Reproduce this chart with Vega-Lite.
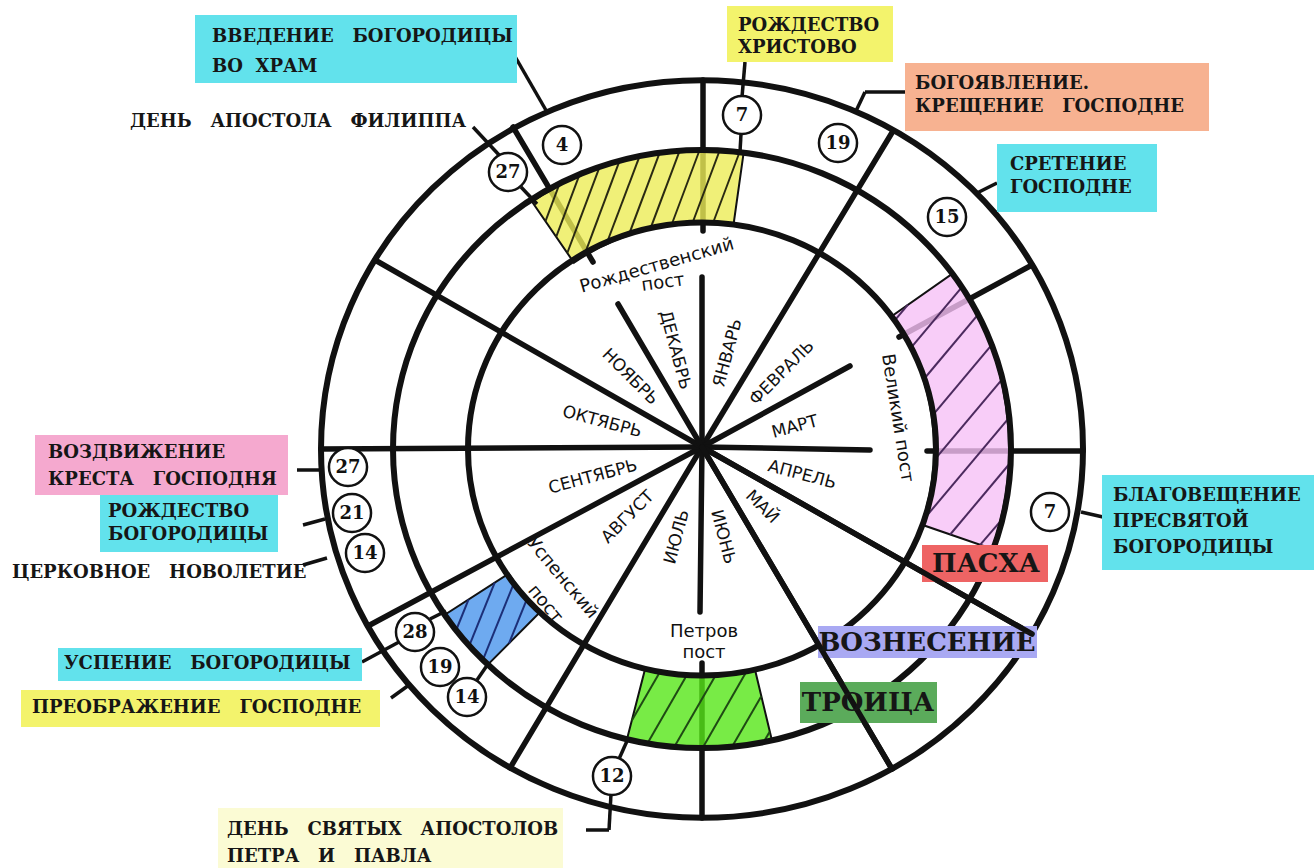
{
  "$schema": "https://vega.github.io/schema/vega-lite/v6.json",
  "width": 1314,
  "height": 868,
  "padding": 0,
  "autosize": {"type": "fit", "contains": "padding"},
  "background": "white",
  "config": {"view": {"stroke": null}},
  "datasets": {
    "spokes": [
      {"id": "jan_feb", "x": 0, "y": 2, "x2": 191, "y2": 318},
      {"id": "apr_may", "x": 0, "y": 2, "x2": 330, "y2": -185},
      {"id": "may_jun", "x": 0, "y": 2, "x2": 190, "y2": -320},
      {"id": "jul_aug", "x": 0, "y": 2, "x2": -192, "y2": -319},
      {"id": "aug_sep", "x": 0, "y": 2, "x2": -334, "y2": -177},
      {"id": "sep_oct", "x": 0, "y": 2, "x2": -381, "y2": 0},
      {"id": "oct_nov", "x": 0, "y": 2, "x2": -327, "y2": 189},
      {"id": "dec_jan_in", "x": 0, "y": 2, "x2": 0, "y2": 172},
      {"id": "feb_mar_in", "x": 0, "y": 2, "x2": 148, "y2": 83},
      {"id": "mar_apr_in", "x": 0, "y": 2, "x2": 168, "y2": -1},
      {"id": "jun_jul_in", "x": 0, "y": 2, "x2": -2, "y2": -163},
      {"id": "nov_dec_in", "x": 0, "y": 2, "x2": -84, "y2": 145},
      {"id": "dec_jan_out", "x": 1, "y": 369, "x2": 1, "y2": 218},
      {"id": "feb_mar_out", "x": 330, "y": 184, "x2": 197, "y2": 112},
      {"id": "mar_apr_out", "x": 225, "y": -2, "x2": 381, "y2": -2},
      {"id": "jun_jul_out", "x": 0, "y": -214, "x2": 0, "y2": -369},
      {"id": "nov_dec_out", "x": -189, "y": 322, "x2": -109, "y2": 187}
    ],
    "hatch": [
      {"band": "yellow", "x": 11, "y": 226, "x2": 38, "y2": 298},
      {"band": "yellow", "x": -9.5, "y": 226, "x2": 18, "y2": 299.5},
      {"band": "yellow", "x": -30.5, "y": 224, "x2": -2, "y2": 300},
      {"band": "yellow", "x": -51.5, "y": 220.6, "x2": -22, "y2": 299.2},
      {"band": "yellow", "x": -73, "y": 214.7, "x2": -42, "y2": 297.2},
      {"band": "yellow", "x": -95, "y": 206.5, "x2": -62, "y2": 293.9},
      {"band": "yellow", "x": -117, "y": 195.7, "x2": -82, "y2": 289.3},
      {"band": "yellow", "x": -134.7, "y": 196, "x2": -102, "y2": 283.2},
      {"band": "yellow", "x": -145.8, "y": 212.2, "x2": -122, "y2": 275.6},
      {"band": "yellow", "x": -156.5, "y": 227.8, "x2": -142, "y2": 266.5},
      {"band": "pink", "x": 192.6, "y": 128.4, "x2": 206, "y2": 144.3},
      {"band": "pink", "x": 209.1, "y": 101.3, "x2": 259.9, "y2": 161.8},
      {"band": "pink", "x": 222.4, "y": 70.5, "x2": 276.2, "y2": 134.6},
      {"band": "pink", "x": 231.2, "y": 34.4, "x2": 289.7, "y2": 104.1},
      {"band": "pink", "x": 233.7, "y": -9.3, "x2": 300.5, "y2": 70.2},
      {"band": "pink", "x": 222.6, "y": -69.3, "x2": 307.4, "y2": 31.7},
      {"band": "pink", "x": 248.2, "y": -85.5, "x2": 308.6, "y2": -13.5},
      {"band": "pink", "x": 278.1, "y": -95.8, "x2": 300.7, "y2": -69.6},
      {"band": "green", "x": -70.3, "y": -271.8, "x2": -41.5, "y2": -221.9},
      {"band": "green", "x": -54.9, "y": -295.1, "x2": -14.8, "y2": -225.6},
      {"band": "green", "x": -28.2, "y": -298.8, "x2": 14.1, "y2": -225.6},
      {"band": "green", "x": 0, "y": -300, "x2": 44.9, "y2": -221.8},
      {"band": "green", "x": 29.6, "y": -298.6, "x2": 59.3, "y2": -247.2},
      {"band": "green", "x": 61, "y": -294.3, "x2": 67.8, "y2": -282.6},
      {"band": "blue", "x": -245.4, "y": -180, "x2": -233.4, "y2": -150.4},
      {"band": "blue", "x": -232.2, "y": -195.4, "x2": -207.3, "y2": -133.6},
      {"band": "blue", "x": -219, "y": -210.7, "x2": -187.8, "y2": -133.5},
      {"band": "blue", "x": -193, "y": -194.3, "x2": -174.5, "y2": -148.7}
    ],
    "rings": [
      {"ring": "outer", "x": 0, "y": 0, "rx": 381},
      {"ring": "middle", "x": 0, "y": 0, "rx": 309},
      {"ring": "inner", "x": 0, "y": 0, "rx": 234}
    ],
    "leaders": [
      {"x": -189, "y": 396, "x2": -155, "y2": 337},
      {"x": -229, "y": 322, "x2": -202, "y2": 293},
      {"x": -181, "y": 262, "x2": -165, "y2": 245},
      {"x": 43, "y": 387, "x2": 40, "y2": 352},
      {"x": 39, "y": 315, "x2": 38, "y2": 297},
      {"x": 203, "y": 357, "x2": 163, "y2": 357},
      {"x": 163, "y": 357, "x2": 154, "y2": 338},
      {"x": 295, "y": 266, "x2": 275, "y2": 256},
      {"x": 379, "y": -63, "x2": 401, "y2": -68},
      {"x": -405, "y": -21, "x2": -381, "y2": -21},
      {"x": -399, "y": -76, "x2": -377, "y2": -70},
      {"x": -399, "y": -116, "x2": -375, "y2": -109},
      {"x": -340, "y": -213, "x2": -303, "y2": -193},
      {"x": -272, "y": -170, "x2": -256, "y2": -162},
      {"x": -311, "y": -249, "x2": -293, "y2": -236},
      {"x": -225, "y": -231, "x2": -214, "y2": -215},
      {"x": -116, "y": -381, "x2": -93, "y2": -381},
      {"x": -93, "y": -381, "x2": -91, "y2": -345},
      {"x": -83, "y": -310, "x2": -75, "y2": -292}
    ],
    "dates": [
      {"n": "4", "x": -140, "y": 304},
      {"n": "27", "x": -194, "y": 277},
      {"n": "7", "x": 40, "y": 334},
      {"n": "19", "x": 136, "y": 306},
      {"n": "15", "x": 245, "y": 232},
      {"n": "7", "x": 348, "y": -63},
      {"n": "27", "x": -354, "y": -18},
      {"n": "21", "x": -350, "y": -64},
      {"n": "14", "x": -337, "y": -104},
      {"n": "28", "x": -287, "y": -183},
      {"n": "19", "x": -262, "y": -218},
      {"n": "14", "x": -235, "y": -248},
      {"n": "12", "x": -90, "y": -327}
    ],
    "boxes": [
      {"col": "cyan", "x": -507, "x2": -185, "y": 434, "y2": 366},
      {"col": "yellow", "x": 25, "x2": 191, "y": 443, "y2": 387},
      {"col": "salmon", "x": 203, "x2": 507, "y": 386, "y2": 318},
      {"col": "cyan", "x": 295, "x2": 455, "y": 305, "y2": 237},
      {"col": "cyan", "x": 400, "x2": 612, "y": -26, "y2": -121},
      {"col": "pink", "x": -667, "x2": -414, "y": 14, "y2": -46},
      {"col": "cyan", "x": -602, "x2": -424, "y": -46, "y2": -103},
      {"col": "cyan", "x": -644, "x2": -340, "y": -199, "y2": -232},
      {"col": "yellow", "x": -681, "x2": -322, "y": -241, "y2": -278},
      {"col": "cream", "x": -484, "x2": -139, "y": -359, "y2": -419},
      {"col": "red", "x": 220, "x2": 346, "y": -96, "y2": -133},
      {"col": "lavender", "x": 116, "x2": 335, "y": -177, "y2": -209},
      {"col": "green", "x": 98, "x2": 235, "y": -233, "y2": -274}
    ],
    "labels": [
      {"t": "ВВЕДЕНИЕ\u00a0\u00a0\u00a0БОГОРОДИЦЫ", "x": -490, "y": 412},
      {"t": "ВО\u00a0\u00a0ХРАМ", "x": -490, "y": 382},
      {"t": "ДЕНЬ\u00a0\u00a0\u00a0АПОСТОЛА\u00a0\u00a0\u00a0ФИЛИППА", "x": -572, "y": 327},
      {"t": "РОЖДЕСТВО", "x": 36, "y": 423},
      {"t": "ХРИСТОВО", "x": 36, "y": 401},
      {"t": "БОГОЯВЛЕНИЕ.", "x": 213, "y": 365},
      {"t": "КРЕЩЕНИЕ\u00a0\u00a0\u00a0ГОСПОДНЕ", "x": 213, "y": 342},
      {"t": "СРЕТЕНИЕ", "x": 308, "y": 284},
      {"t": "ГОСПОДНЕ", "x": 308, "y": 261},
      {"t": "БЛАГОВЕЩЕНИЕ", "x": 411, "y": -47},
      {"t": "ПРЕСВЯТОЙ", "x": 411, "y": -73},
      {"t": "БОГОРОДИЦЫ", "x": 411, "y": -99},
      {"t": "ВОЗДВИЖЕНИЕ", "x": -654, "y": -4},
      {"t": "КРЕСТА\u00a0\u00a0\u00a0ГОСПОДНЯ", "x": -654, "y": -31},
      {"t": "РОЖДЕСТВО", "x": -594, "y": -63},
      {"t": "БОГОРОДИЦЫ", "x": -594, "y": -86},
      {"t": "ЦЕРКОВНОЕ\u00a0\u00a0\u00a0НОВОЛЕТИЕ", "x": -690, "y": -124},
      {"t": "УСПЕНИЕ\u00a0\u00a0\u00a0БОГОРОДИЦЫ", "x": -638, "y": -215},
      {"t": "ПРЕОБРАЖЕНИЕ\u00a0\u00a0\u00a0ГОСПОДНЕ", "x": -670, "y": -259},
      {"t": "ДЕНЬ\u00a0\u00a0\u00a0СВЯТЫХ\u00a0\u00a0\u00a0АПОСТОЛОВ", "x": -475, "y": -381},
      {"t": "ПЕТРА\u00a0\u00a0\u00a0И\u00a0\u00a0\u00a0ПАВЛА", "x": -475, "y": -408}
    ],
    "big": [
      {"t": "ПАСХА", "x": 284, "y": -115},
      {"t": "ВОЗНЕСЕНИЕ", "x": 225, "y": -194},
      {"t": "ТРОИЦА", "x": 166, "y": -254}
    ],
    "months": [
      {"t": "ЯНВАРЬ", "dir": 15, "x": 26, "y": 96},
      {"t": "ФЕВРАЛЬ", "dir": 45, "x": 80, "y": 76},
      {"t": "МАРТ", "dir": 75, "x": 93, "y": 22},
      {"t": "АПРЕЛЬ", "dir": 105, "x": 100, "y": -26},
      {"t": "МАЙ", "dir": 135, "x": 60, "y": -58},
      {"t": "ИЮНЬ", "dir": 165, "x": 21, "y": -88},
      {"t": "ИЮЛЬ", "dir": 195, "x": -25, "y": -88},
      {"t": "АВГУСТ", "dir": 225, "x": -74, "y": -68},
      {"t": "СЕНТЯБРЬ", "dir": 255, "x": -109, "y": -28},
      {"t": "ОКТЯБРЬ", "dir": 285, "x": -100, "y": 27},
      {"t": "НОЯБРЬ", "dir": 315, "x": -72, "y": 72},
      {"t": "ДЕКАБРЬ", "dir": 345, "x": -27, "y": 99}
    ]
  },
  "encoding": {
    "x": {"field": "x", "type": "quantitative", "scale": {"domain": [-702, 612], "nice": false, "zero": false}, "axis": null},
    "y": {"field": "y", "type": "quantitative", "scale": {"domain": [-419, 449], "nice": false, "zero": false}, "axis": null}
  },
  "layer": [
    {
      "data": {"name": "spokes"},
      "mark": {"type": "rule", "stroke": "#111111", "strokeWidth": 5.5, "strokeCap": "round"},
      "encoding": {"x2": {"field": "x2"}, "y2": {"field": "y2"}}
    },
    {
      "data": {"values": [{"fast": "Рождественский пост", "x": 0, "y": 0, "a0": -34.5, "a1": 8}]},
      "mark": {"type": "arc", "outerRadius": 300, "innerRadius": 226, "fill": "#ecec56", "fillOpacity": 0.8, "stroke": "#111111", "strokeWidth": 2},
      "encoding": {
        "theta": {"field": "a0", "type": "quantitative", "stack": null, "scale": {"domain": [0, 360], "range": [0, 6.283185307179586]}},
        "theta2": {"field": "a1"}
      }
    },
    {
      "data": {"values": [{"fast": "Великий пост", "x": 0, "y": 0, "a0": 55, "a1": 109}]},
      "mark": {"type": "arc", "outerRadius": 307, "innerRadius": 232, "fill": "#f6c0f6", "fillOpacity": 0.8, "stroke": "#111111", "strokeWidth": 2},
      "encoding": {
        "theta": {"field": "a0", "type": "quantitative", "stack": null, "scale": {"domain": [0, 360], "range": [0, 6.283185307179586]}},
        "theta2": {"field": "a1"}
      }
    },
    {
      "data": {"values": [{"fast": "Петров пост", "x": 0, "y": 0, "a0": 166.5, "a1": 194.5}]},
      "mark": {"type": "arc", "outerRadius": 300, "innerRadius": 226, "fill": "#56e618", "fillOpacity": 0.8, "stroke": "#111111", "strokeWidth": 2},
      "encoding": {
        "theta": {"field": "a0", "type": "quantitative", "stack": null, "scale": {"domain": [0, 360], "range": [0, 6.283185307179586]}},
        "theta2": {"field": "a1"}
      }
    },
    {
      "data": {"values": [{"fast": "Успенский пост", "x": 0, "y": 0, "a0": 224.8, "a1": 237.2}]},
      "mark": {"type": "arc", "outerRadius": 305, "innerRadius": 230, "fill": "#4a95ec", "fillOpacity": 0.8, "stroke": "#111111", "strokeWidth": 2},
      "encoding": {
        "theta": {"field": "a0", "type": "quantitative", "stack": null, "scale": {"domain": [0, 360], "range": [0, 6.283185307179586]}},
        "theta2": {"field": "a1"}
      }
    },
    {
      "data": {"name": "hatch"},
      "mark": {"type": "rule", "strokeWidth": 2},
      "encoding": {
        "x2": {"field": "x2"},
        "y2": {"field": "y2"},
        "stroke": {"field": "band", "type": "nominal", "legend": null,
          "scale": {"domain": ["yellow", "pink", "green", "blue"], "range": ["#2a2a12", "#4b2a5e", "#1f4a14", "#1c2f78"]}}
      }
    },
    {
      "data": {"name": "rings"},
      "mark": {"type": "point", "shape": "M -1 0 A 1 0.968 0 1 0 1 0 A 1 0.968 0 1 0 -1 0 Z", "filled": false, "stroke": "#111111", "strokeWidth": 6, "opacity": 1},
      "encoding": {
        "size": {"field": "rx", "type": "quantitative", "legend": null,
          "scale": {"type": "pow", "exponent": 2, "domain": [0, 381], "range": [0, 580644], "zero": true, "nice": false}}
      }
    },
    {
      "data": {"name": "leaders"},
      "mark": {"type": "rule", "stroke": "#111111", "strokeWidth": 3.5},
      "encoding": {"x2": {"field": "x2"}, "y2": {"field": "y2"}}
    },
    {
      "data": {"name": "dates"},
      "mark": {"type": "point", "shape": "circle", "size": 1450, "filled": true, "fill": "white", "stroke": "#111111", "strokeWidth": 2.5, "opacity": 1}
    },
    {
      "data": {"name": "dates"},
      "mark": {"type": "text", "font": "DejaVu Serif", "fontWeight": "bold", "fontSize": 18, "fill": "#111111", "align": "center", "baseline": "middle", "dy": 1},
      "encoding": {"text": {"field": "n"}}
    },
    {
      "data": {"name": "boxes"},
      "mark": {"type": "rect"},
      "encoding": {
        "x2": {"field": "x2"},
        "y2": {"field": "y2"},
        "fill": {"field": "col", "type": "nominal", "legend": null,
          "scale": {"domain": ["cyan", "yellow", "salmon", "pink", "cream", "red", "lavender", "green"],
                    "range": ["#62e2ec", "#f3f36c", "#f7b291", "#f5a9cf", "#fbfbd4", "#ee6464", "#a9a9f3", "#5bab5b"]}}
      }
    },
    {
      "data": {"name": "spokes"},
      "transform": [{"filter": "datum.id == 'apr_may' || datum.id == 'may_jun'"}],
      "mark": {"type": "rule", "stroke": "#111111", "strokeWidth": 5.5, "strokeCap": "round"},
      "encoding": {"x2": {"field": "x2"}, "y2": {"field": "y2"}}
    },
    {
      "data": {"name": "labels"},
      "mark": {"type": "text", "font": "DejaVu Serif", "fontWeight": "bold", "fontSize": 18, "fill": "#161616", "align": "left", "baseline": "middle"},
      "encoding": {"text": {"field": "t"}}
    },
    {
      "data": {"name": "big"},
      "mark": {"type": "text", "font": "DejaVu Serif", "fontWeight": "bold", "fontSize": 26, "fill": "#161616", "align": "center", "baseline": "middle"},
      "encoding": {"text": {"field": "t"}}
    },
    {
      "data": {"name": "months"},
      "mark": {"type": "text", "font": "DejaVu Sans", "fontSize": 17, "fill": "#111111", "align": "center", "baseline": "middle"},
      "encoding": {
        "text": {"field": "t"},
        "angle": {"field": "dir", "type": "quantitative", "legend": null,
          "scale": {"domain": [0, 180, 180.001, 360], "range": [-90, 90, -90, 90], "zero": false, "nice": false}}
      }
    },
    {
      "data": {"values": [{"t": "Рождественский", "x": -45, "y": 183}]},
      "mark": {"type": "text", "font": "DejaVu Sans", "fontSize": 18, "fill": "#111111", "align": "center", "baseline": "middle", "angle": 344},
      "encoding": {"text": {"field": "t"}}
    },
    {
      "data": {"values": [{"t": "пост", "x": -39, "y": 166}]},
      "mark": {"type": "text", "font": "DejaVu Sans", "fontSize": 18, "fill": "#111111", "align": "center", "baseline": "middle", "angle": 352},
      "encoding": {"text": {"field": "t"}}
    },
    {
      "data": {"values": [{"t": "Великий пост", "x": 195, "y": 31}]},
      "mark": {"type": "text", "font": "DejaVu Sans", "fontSize": 18, "fill": "#111111", "align": "center", "baseline": "middle", "angle": 81},
      "encoding": {"text": {"field": "t"}}
    },
    {
      "data": {"values": [{"t": "Петров", "x": 2, "y": -183}, {"t": "пост", "x": 2, "y": -204}]},
      "mark": {"type": "text", "font": "DejaVu Sans", "fontSize": 18, "fill": "#111111", "align": "center", "baseline": "middle"},
      "encoding": {"text": {"field": "t"}}
    },
    {
      "data": {"values": [{"t": "Успенский", "x": -140, "y": -129}, {"t": "пост", "x": -157, "y": -155}]},
      "mark": {"type": "text", "font": "DejaVu Sans", "fontSize": 18, "fill": "#111111", "align": "center", "baseline": "middle", "angle": 50},
      "encoding": {"text": {"field": "t"}}
    }
  ]
}
